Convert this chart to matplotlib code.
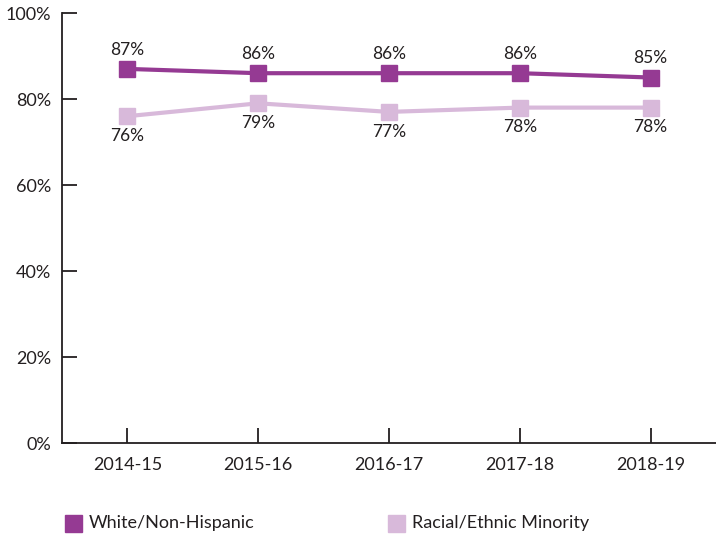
import matplotlib
matplotlib.use("Agg")
import matplotlib.pyplot as plt
from matplotlib.patches import Rectangle

years = ["2014-15", "2015-16", "2016-17", "2017-18", "2018-19"]
white = [87, 86, 86, 86, 85]
minority = [76, 79, 77, 78, 78]
yticks = [0, 20, 40, 60, 80, 100]

c_white = "#953A93"
c_min = "#D8B9DA"
tc = "#231f20"

plt.rcParams['font.family'] = ['Lato', 'DejaVu Sans']

fig = plt.figure(figsize=(7.16, 5.39), dpi=100)
ax = fig.add_axes([62/716, 1-443/539, 1-62/716, (443-13)/539])
x = list(range(len(years)))
ax.plot(x, white, color=c_white, lw=3, marker='s', ms=11, zorder=3)
ax.plot(x, minority, color=c_min, lw=3, marker='s', ms=11, zorder=2)
for xi, v in zip(x, white):
    ax.annotate(f"{v}%", (xi, v), xytext=(0, 8), textcoords='offset points',
                ha='center', va='bottom', fontsize=12.5, color=tc)
for xi, v in zip(x, minority):
    ax.annotate(f"{v}%", (xi, v), xytext=(0, -8.5), textcoords='offset points',
                ha='center', va='top', fontsize=12.5, color=tc)

ax.set_xlim(-0.5, 4.5)
ax.set_ylim(0, 100)
ax.set_yticks(yticks)
ax.set_yticklabels([f"{t}%" for t in yticks])
ax.set_xticks(x)
ax.set_xticklabels(years)
for s in ['top', 'right']:
    ax.spines[s].set_visible(False)
for s in ['left', 'bottom']:
    ax.spines[s].set_color(tc)
    ax.spines[s].set_linewidth(1.3)
ax.tick_params(axis='both', direction='in', length=11, width=1.3, color=tc,
               labelsize=13, labelcolor=tc)
ax.tick_params(axis='y', pad=8)
ax.tick_params(axis='x', pad=10)

# legend
for lx, col, lab in [(65, c_white, "White/Non-Hispanic"), (388, c_min, "Racial/Ethnic Minority")]:
    fig.patches.append(Rectangle((lx/716, 1-532/539), 17/716, 17/539,
                                 transform=fig.transFigure, color=col))
    fig.text((lx+24)/716, 1-523/539, lab, fontsize=13, color=tc, va='center', ha='left')

fig.savefig("out.png", dpi=100)
